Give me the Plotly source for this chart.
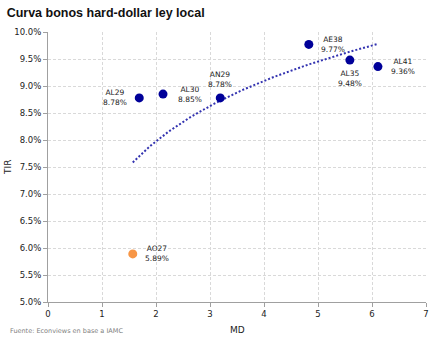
import numpy as np
import plotly.graph_objects as go

# Bond data: modified duration (MD) and yield (TIR, in %)
bonds = ["AL29", "AL30", "AN29", "AE38", "AL35", "AL41", "AO27"]
md = [1.69, 2.13, 3.19, 4.83, 5.59, 6.11, 1.57]
tir = [8.78, 8.85, 8.78, 9.77, 9.48, 9.36, 5.89]
colors = ["#000099"] * 6 + ["#F79646"]

# Label placement around each marker: (xanchor, xshift, yshift)
label_place = [("right", -10, 0), ("left", 13, 0), ("center", 0, 18),
               ("left", 10, 0), ("center", 0, -18), ("left", 11, 0),
               ("left", 10, 0)]

x_ticks = [0, 1, 2, 3, 4, 5, 6, 7]
y_ticks = [5.0, 5.5, 6.0, 6.5, 7.0, 7.5, 8.0, 8.5, 9.0, 9.5, 10.0]

FONT = "DejaVu Sans"
TXT = "#222222"

# Logarithmic trendline fitted on all bonds
b, a = np.polyfit(np.log(md), tir, 1)
xs = np.linspace(min(md), max(md), 80)
ys = a + b * np.log(xs)

fig = go.Figure()
fig.add_trace(go.Scatter(
    x=xs, y=[v / 100 for v in ys], mode="lines",
    line=dict(color="#3333B0", width=2, dash="2px,2px"),
    hoverinfo="skip", showlegend=False,
))
fig.add_trace(go.Scatter(
    x=md, y=[v / 100 for v in tir], mode="markers",
    marker=dict(color=colors, size=9, line=dict(width=0)),
    showlegend=False,
))

annotations = []
for n, x, y, (anchor, dx, dy) in zip(bonds, md, tir, label_place):
    annotations.append(dict(
        x=x, y=y / 100, xref="x", yref="y", text=f"{n}<br>{y:.2f}%",
        showarrow=False, xanchor=anchor, yanchor="middle", align="center",
        xshift=dx, yshift=dy,
        font=dict(family=FONT, size=7.5, color=TXT),
    ))

axis_common = dict(
    showline=True, linecolor="#A0A0A0", linewidth=1,
    ticks="outside", ticklen=4, tickcolor="#A0A0A0",
    showgrid=True, gridcolor="#D9D9D9", griddash="3px,2px", gridwidth=1,
    zeroline=False, automargin=False,
    tickfont=dict(family=FONT, size=8.5, color=TXT),
)

fig.update_xaxes(range=[0, 7], tickvals=x_ticks, **axis_common)
fig.update_yaxes(range=[0.05, 0.10], tickvals=[v / 100 for v in y_ticks],
                 tickformat=".1%", **axis_common)

annotations += [
    dict(text="MD", xref="paper", yref="paper", x=0.5, y=-0.104,
         xanchor="center", yanchor="middle", showarrow=False,
         font=dict(family=FONT, size=9, color=TXT)),
    dict(text="TIR", xref="paper", yref="paper", x=-0.106, y=0.5,
         xanchor="center", yanchor="middle", showarrow=False, textangle=-90,
         font=dict(family=FONT, size=9, color=TXT)),
    dict(text="Fuente: Econviews en base a IAMC", xref="paper", yref="paper",
         x=-0.106, y=-0.107, xanchor="left", yanchor="middle", showarrow=False,
         font=dict(family=FONT, size=6.5, color="#808080")),
]

fig.update_layout(
    width=443, height=340,
    margin=dict(l=48, r=17, t=32, b=38),
    paper_bgcolor="white", plot_bgcolor="white",
    title=dict(text="<b>Curva bonos hard-dollar ley local</b>",
               font=dict(family="Liberation Sans", size=12.5, color="#111111"),
               x=0.015, xanchor="left", y=0.975, yanchor="top"),
    annotations=annotations,
)

fig.write_html("out.html")
